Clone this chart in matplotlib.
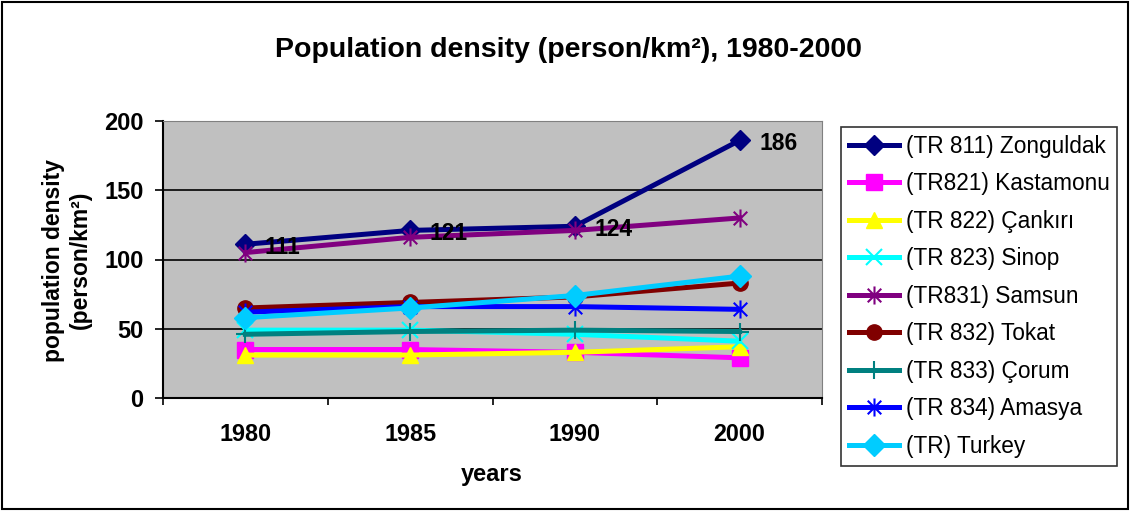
import matplotlib
matplotlib.use("Agg")
import matplotlib.pyplot as plt
from matplotlib.path import Path
from matplotlib.patches import Rectangle

plt.rcParams['font.family'] = ['Liberation Sans', 'DejaVu Sans']

years = ["1980", "1985", "1990", "2000"]
zonguldak = [111, 121, 124, 186]
kastamonu = [35, 35, 33, 29]
cankiri = [31, 31, 33, 37]
sinop = [49, 49, 46, 41]
samsun = [105, 116, 121, 130]
tokat = [65, 69, 73, 83]
corum = [46, 48, 49, 48]
amasya = [62, 66, 66, 64]
turkey = [58, 65, 74, 88]
zonguldak_labels = ["111", "121", "124", "186"]

names = ["(TR 811) Zonguldak", "(TR821) Kastamonu", "(TR 822) Çankırı",
         "(TR 823) Sinop", "(TR831) Samsun", "(TR 832) Tokat",
         "(TR 833) Çorum", "(TR 834) Amasya", "(TR) Turkey"]
series = [zonguldak, kastamonu, cankiri, sinop, samsun, tokat, corum, amasya, turkey]
colors = ["#000080", "#FF00FF", "#FFFF00", "#00FFFF", "#800080",
          "#800000", "#008080", "#0000FF", "#00CCFF"]

star = Path([(0, -1), (0, 1), (-0.75, -0.75), (0.75, 0.75), (-0.75, 0.75), (0.75, -0.75)],
            [Path.MOVETO, Path.LINETO, Path.MOVETO, Path.LINETO, Path.MOVETO, Path.LINETO])
plusv = Path([(0, -1), (0, 1), (-1, 0), (1, 0)],
             [Path.MOVETO, Path.LINETO, Path.MOVETO, Path.LINETO])
markers = ["D", "s", "^", "x", star, "o", plusv, star, "D"]
msizes = [10, 11, 12, 11, 13, 11, 13, 13, 11]
filled = [True, True, True, False, False, True, False, False, True]

fig = plt.figure(figsize=(11.3, 5.11), dpi=100)
ax = fig.add_axes([163/1130, 1-398/511, (822-163)/1130, (398-121)/511])
ax.set_facecolor("#C0C0C0")

x = list(range(len(years)))
for s, name, c, m, ms, f in zip(series, names, colors, markers, msizes, filled):
    if f:
        ax.plot(x, s, color=c, lw=3.6, marker=m, ms=ms, mfc=c, mec=c, label=name)
    else:
        ax.plot(x, s, color=c, lw=3.6, marker=m, ms=ms, mfc='none', mec=c, mew=1.5, label=name)

for xi, v, lab in zip(x, zonguldak, zonguldak_labels):
    ax.annotate(lab, (xi, v), xytext=(14, -2), textcoords="offset points",
                ha="left", va="center", fontsize=16.5, fontweight="bold")

ax.set_ylim(0, 200)
ax.set_xlim(-0.5, 3.5)
ax.set_yticks([0, 50, 100, 150, 200])
ax.yaxis.grid(True, color="black", lw=1.2)
ax.set_axisbelow(True)
ax.tick_params(axis="y", direction="out", length=6, width=1.2, pad=8, labelsize=17)
for t in ax.get_yticklabels():
    t.set_fontweight("bold")

ax.set_xticks([-0.5, 0.5, 1.5, 2.5, 3.5])
ax.set_xticklabels([])
ax.tick_params(axis="x", which="major", direction="out", length=5, width=1.2)
ax.set_xticks(x, minor=True)
ax.set_xticklabels(years, minor=True, fontsize=16.8, fontweight="bold")
ax.tick_params(axis="x", which="minor", length=0, pad=18)

ax.spines["left"].set_color("black")
ax.spines["bottom"].set_color("black")
ax.spines["left"].set_linewidth(1.5)
ax.spines["bottom"].set_linewidth(1.5)
ax.spines["top"].set_color("#808080")
ax.spines["right"].set_color("#808080")

fig.text(568/1130, 1-50/511, "Population density (person/km²), 1980-2000",
         ha="center", va="center", fontsize=20.5, fontweight="bold")
fig.text(492/1130, 1-474/511, "years", ha="center", va="center",
         fontsize=17, fontweight="bold")
fig.text(67/1130, 1-260/511, "population density\n(person/km²)", rotation=90,
         ha="center", va="center", fontsize=16.5, fontweight="bold",
         multialignment="center", linespacing=1.25)

leg = fig.legend(loc="upper left", bbox_to_anchor=(841/1130, 1-127/511),
                 bbox_transform=fig.transFigure, fontsize=16.3, frameon=True,
                 fancybox=False, edgecolor="black", handlelength=2.2,
                 handletextpad=0.3, labelspacing=0.64, borderpad=0.35,
                 borderaxespad=0)
leg.get_frame().set_linewidth(1.2)

fig.patches.append(Rectangle((0.002, 0.003), 0.996, 0.994, transform=fig.transFigure,
                             fill=False, edgecolor="black", lw=1.5))

fig.savefig("out.png", dpi=100)
